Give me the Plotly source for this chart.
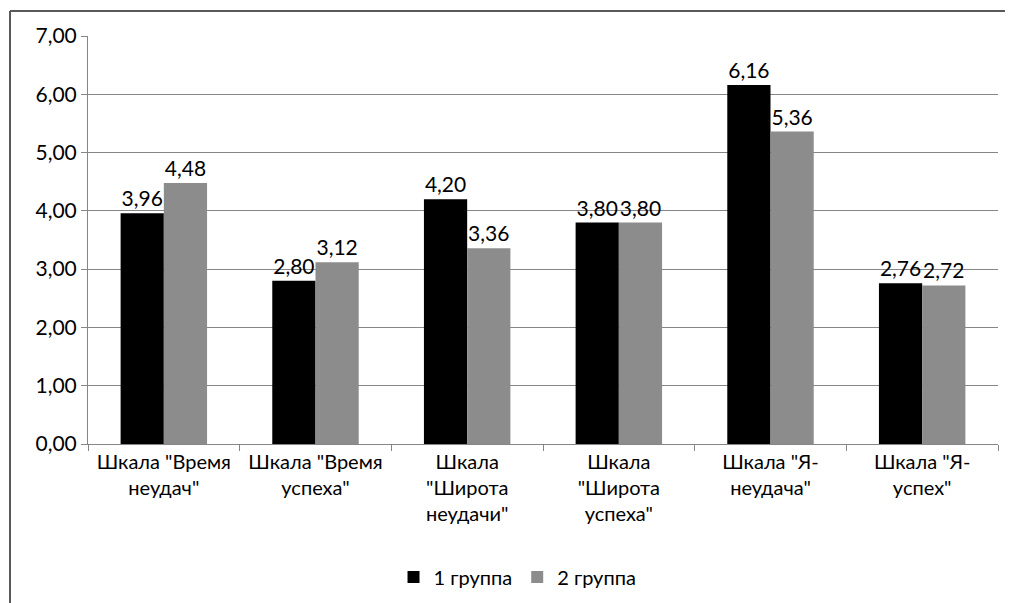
import plotly.graph_objects as go

categories = ['Шкала "Время<br>неудач"', 'Шкала "Время<br>успеха"', 'Шкала<br>"Широта<br>неудачи"',
              'Шкала<br>"Широта<br>успеха"', 'Шкала "Я-<br>неудача"', 'Шкала "Я-<br>успех"']
group1 = [3.96, 2.80, 4.20, 3.80, 6.16, 2.76]
group2 = [4.48, 3.12, 3.36, 3.80, 5.36, 2.72]
series_names = ["1 группа", "2 группа"]
y_ticks = [0, 1, 2, 3, 4, 5, 6, 7]

FONT = "Lato, Open Sans, sans-serif"
FS = 20
FN = 21

# page has an 8px body margin; plot area in page coords: x 88..998, y 36..444
L, T, R, B = 80, 28, 23, 167
PW, PH = 1013 - L - R, 603 - T - B

fig = go.Figure()
for name, vals, col in [(series_names[0], group1, "#000000"), (series_names[1], group2, "#8c8c8c")]:
    fig.add_trace(go.Bar(
        x=categories, y=vals, name=name, marker=dict(color=col, line=dict(width=0)),
        texttemplate="%{y:.2f}", textposition="outside", cliponaxis=False,
        textfont=dict(size=FN, color="#000000", family=FONT),
    ))

fig.update_layout(
    width=1013, height=603,
    margin=dict(l=L, r=R, t=T, b=B, autoexpand=False),
    paper_bgcolor="white", plot_bgcolor="white",
    separators=", ",
    barmode="group", bargap=0.43, bargroupgap=0,
    font=dict(family=FONT, size=FS, color="#000000"),
    showlegend=True,
    legend=dict(orientation="h", x=0.472, xanchor="center", y=-(577 - 8 - (T + PH)) / PH, yanchor="middle",
                font=dict(size=FS), itemwidth=30, traceorder="normal"),
    xaxis=dict(showline=True, linecolor="#868686", linewidth=1, ticks="outside", tickson="boundaries",
               ticklen=6, tickcolor="#868686", tickfont=dict(size=FS), showgrid=False, automargin=False),
    yaxis=dict(range=[0, 7], tickvals=y_ticks, tickformat=".2f", showline=True, linecolor="#868686",
               linewidth=1, ticks="outside", ticklen=6, tickcolor="#868686", showgrid=True,
               gridcolor="#868686", gridwidth=1, zeroline=False, tickfont=dict(size=FN), automargin=False),
    shapes=[
        dict(type="line", xref="paper", yref="paper", x0=(2 - L) / PW, x1=(1013 - L) / PW,
             y0=(T + PH - 3) / PH, y1=(T + PH - 3) / PH, line=dict(color="#595959", width=2)),
        dict(type="line", xref="paper", yref="paper", x0=(2 - L) / PW, x1=(2 - L) / PW,
             y0=(T + PH - 3) / PH, y1=(T + PH - 603) / PH, line=dict(color="#595959", width=2)),
    ],
)

fig.write_html("out.html")
